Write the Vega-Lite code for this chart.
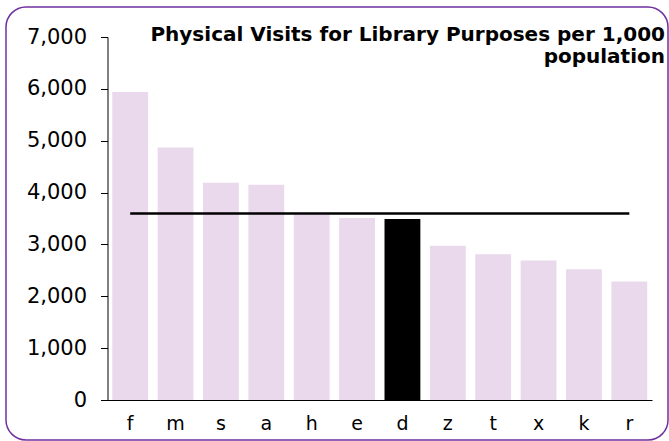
{
  "$schema": "https://vega.github.io/schema/vega-lite/v6.json",
  "width": 662,
  "height": 433,
  "autosize": {"type": "none"},
  "padding": {"left": 6, "top": 7, "right": 1, "bottom": 1},
  "background": "white",
  "title": {
    "text": ["Physical Visits for Library Purposes per 1,000", "population"],
    "anchor": "end",
    "frame": "group",
    "orient": "top",
    "align": "right",
    "baseline": "top",
    "offset": 0,
    "dx": -3,
    "dy": 60,
    "lineHeight": 22,
    "font": "DejaVu Sans",
    "fontSize": 20,
    "fontWeight": "bold",
    "color": "#000000"
  },
  "config": {
    "view": {"stroke": "#7030A0", "strokeWidth": 1.5, "cornerRadius": 20},
    "font": "DejaVu Sans"
  },
  "layer": [
    {
      "data": {
        "values": [
          {"name": "f", "value": 5940},
          {"name": "m", "value": 4870},
          {"name": "s", "value": 4190},
          {"name": "a", "value": 4150},
          {"name": "h", "value": 3575},
          {"name": "e", "value": 3510},
          {"name": "d", "value": 3490},
          {"name": "z", "value": 2975},
          {"name": "t", "value": 2810},
          {"name": "x", "value": 2690},
          {"name": "k", "value": 2520},
          {"name": "r", "value": 2285}
        ]
      },
      "mark": {"type": "bar"},
      "encoding": {
        "x": {
          "field": "name",
          "type": "nominal",
          "scale": {
            "domain": ["f", "m", "s", "a", "h", "e", "d", "z", "t", "x", "k", "r"],
            "range": [101.5, 646],
            "paddingInner": 0.21,
            "paddingOuter": 0.105
          },
          "axis": {
            "title": null,
            "offset": -40,
            "labelAngle": 0,
            "ticks": false,
            "domainColor": "#000000",
            "domainWidth": 1,
            "labelFontSize": 19,
            "labelColor": "#000000",
            "labelPadding": 14,
            "labelFont": "DejaVu Sans"
          }
        },
        "y": {
          "field": "value",
          "type": "quantitative",
          "scale": {"domain": [0, 7000], "range": [393, 30], "nice": false, "zero": true},
          "axis": {
            "title": null,
            "offset": -101.5,
            "values": [0, 1000, 2000, 3000, 4000, 5000, 6000, 7000],
            "format": ",d",
            "grid": false,
            "tickSize": 7,
            "tickColor": "#000000",
            "domainColor": "#000000",
            "domainWidth": 1,
            "labelFontSize": 21,
            "labelColor": "#000000",
            "labelPadding": 14,
            "labelFont": "DejaVu Sans"
          }
        },
        "color": {
          "condition": {"test": "datum.name === 'd'", "value": "#000000"},
          "value": "#EAD9EC"
        }
      }
    },
    {
      "data": {"values": [{"start": "f", "end": "r", "avg": 3595}]},
      "mark": {"type": "rule", "color": "#000000", "strokeWidth": 2.5},
      "encoding": {
        "x": {"field": "start", "type": "nominal", "bandPosition": 0.5},
        "x2": {"field": "end"},
        "y": {"field": "avg", "type": "quantitative"}
      }
    }
  ]
}
